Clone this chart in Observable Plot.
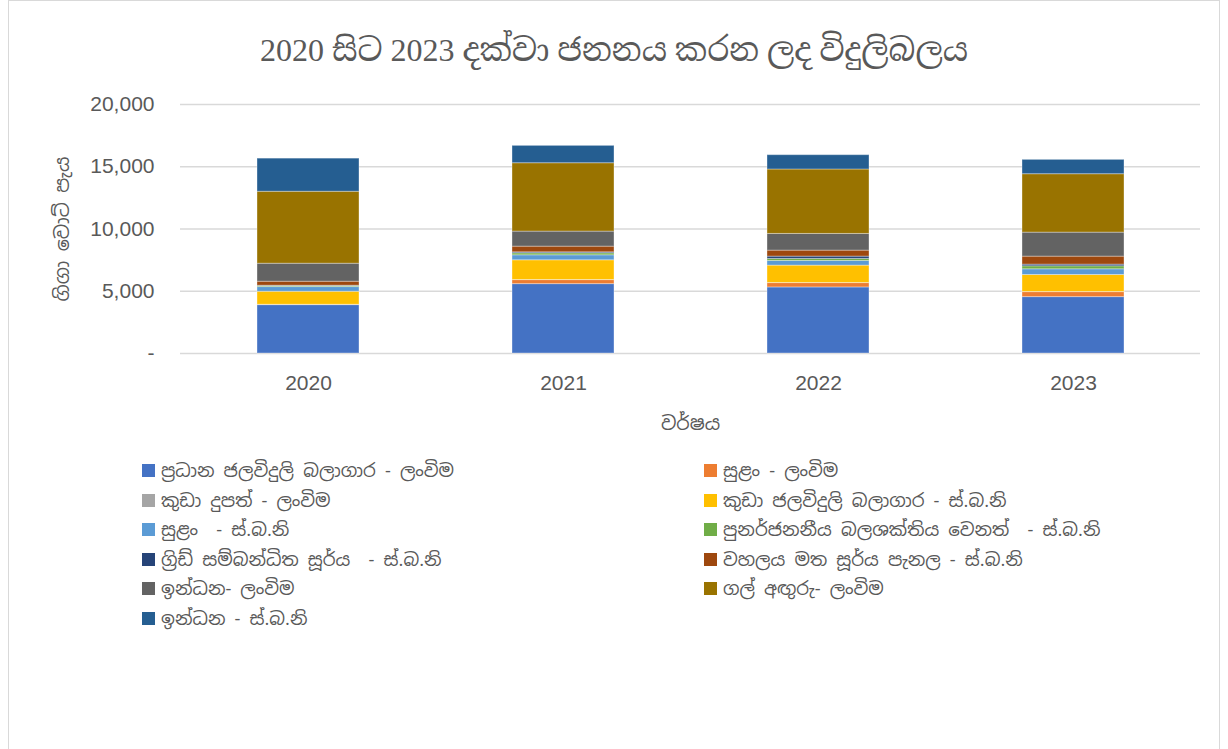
<!DOCTYPE html>
<html><head><meta charset="utf-8">
<script src="https://cdn.jsdelivr.net/npm/d3@7"></script>
<script src="https://cdn.jsdelivr.net/npm/@observablehq/plot@0.6"></script>
<style>
body{margin:0;background:#fff;position:relative;width:1228px;height:749px;overflow:hidden;}
#frame{position:absolute;left:8px;top:0;width:1212px;height:760px;border:1px solid #d9d9d9;box-sizing:border-box;background:transparent;}
#title{position:absolute;left:0;top:29px;width:1228px;text-align:center;font-family:"Liberation Serif","Noto Serif Sinhala","Noto Sans Sinhala",serif;font-size:32px;color:#595959;}
#chart{position:absolute;left:0;top:85px;}
#chart svg{max-width:none;background:transparent;}
#legend{position:absolute;left:142px;top:459px;display:grid;grid-template-columns:562px 500px;row-gap:6.6px;font-family:"Noto Sans Sinhala","Iskoola Pota","Noto Sans",sans-serif;font-size:18.2px;color:#595959;}
.li{display:flex;align-items:center;height:23px;white-space:pre;}
.sw{width:13px;height:13px;margin-right:6px;flex:none;}
</style></head>
<body><div id="title">2020 සිට 2023 දක්වා ජනනය කරන ලද විදුලිබලය</div><div id="chart"></div><div id="legend"></div><div id="frame"></div>
<script>
const years = ["2020","2021","2022","2023"];
const seriesNames = [
  "ප්‍රධාන ජලවිදුලි බලාගාර - ලංවිම",
  "සුළං - ලංවිම",
  "කුඩා දුපත් - ලංවිම",
  "කුඩා ජලවිදුලි බලාගාර - ස්.බ.නි",
  "සුළං  - ස්.බ.නි",
  "පුනර්ජනනීය බලශක්තිය වෙනත්  - ස්.බ.නි",
  "ග්‍රිඩ් සම්බන්ධිත සූර්ය  - ස්.බ.නි",
  "වහලය මත සූර්ය පැනල - ස්.බ.නි",
  "ඉන්ධන- ලංවිම",
  "ගල් අඟුරු- ලංවිම",
  "ඉන්ධන - ස්.බ.නි"
];
const colors = ["#4472C4","#ED7D31","#A5A5A5","#FFC000","#5B9BD5","#70AD47","#264478","#9E480E","#636363","#997300","#255E91"];
const majorHydroCEB = [3885, 5572, 5306, 4529];
const windCEB = [20, 323, 349, 401];
const islandCEB = [10, 10, 10, 10];
const smallHydroSPP = [1045, 1582, 1394, 1367];
const windSPP = [375, 400, 375, 457];
const otherRenewSPP = [80, 160, 160, 240];
const gridSolarSPP = [30, 80, 188, 134];
const rooftopSolarSPP = [322, 457, 482, 643];
const fuelCEB = [1445, 1208, 1340, 1928];
const coalCEB = [5780, 5491, 5176, 4692];
const fuelSPP = [2660, 1394, 1149, 1152];
const seriesValues = [majorHydroCEB, windCEB, islandCEB, smallHydroSPP, windSPP, otherRenewSPP, gridSolarSPP, rooftopSolarSPP, fuelCEB, coalCEB, fuelSPP];
const yTicks = [0, 5000, 10000, 15000, 20000];

const rows = [];
years.forEach((y, i) => seriesNames.forEach((s, j) => rows.push({year: y, series: s, value: seriesValues[j][i]})));

const fmt = d => d === 0 ? "-" : d3.format(",")(d);
const chart = Plot.plot({
  width: 1228, height: 370,
  marginTop: 19, marginBottom: 102, marginLeft: 180, marginRight: 28,
  style: {fontFamily: "Liberation Sans, sans-serif", fontSize: "21px", color: "#595959", background: "transparent"},
  x: {domain: years, paddingInner: 0.6, paddingOuter: 0.3, label: null},
  y: {domain: [0, 20000], ticks: yTicks, label: null},
  color: {domain: seriesNames, range: colors},
  marks: [
    Plot.gridY(yTicks, {stroke: "#d9d9d9", strokeOpacity: 1, strokeWidth: 1.5}),
    Plot.barY(rows, {x: "year", y: "value", fill: "series", stroke: "#ffffff", strokeOpacity: 0.35, strokeWidth: 1}),
    Plot.axisY(yTicks, {tickSize: 0, tickPadding: 26, tickFormat: fmt, fill: "#595959", fontSize: 21}),
    Plot.axisX({tickSize: 0, tickPadding: 22, fill: "#595959", fontSize: 21}),
    Plot.text(["ගිගා වොට් පැය"], {frameAnchor: "left", textAnchor: "middle", dx: -118, rotate: -90, fill: "#595959", fontSize: 19, fontFamily: "Noto Sans Sinhala, Iskoola Pota, sans-serif"}),
    Plot.text(["වර්ෂය"], {frameAnchor: "bottom", dy: 76, fill: "#595959", fontSize: 19, fontFamily: "Noto Sans Sinhala, Iskoola Pota, sans-serif"})
  ]
});
document.getElementById("chart").appendChild(chart);

const leg = document.getElementById("legend");
seriesNames.forEach((s, j) => {
  const d = document.createElement("div"); d.className = "li";
  d.innerHTML = `<span class="sw" style="background:${colors[j]}"></span>`;
  d.appendChild(document.createTextNode(s));
  leg.appendChild(d);
});
</script></body></html>
